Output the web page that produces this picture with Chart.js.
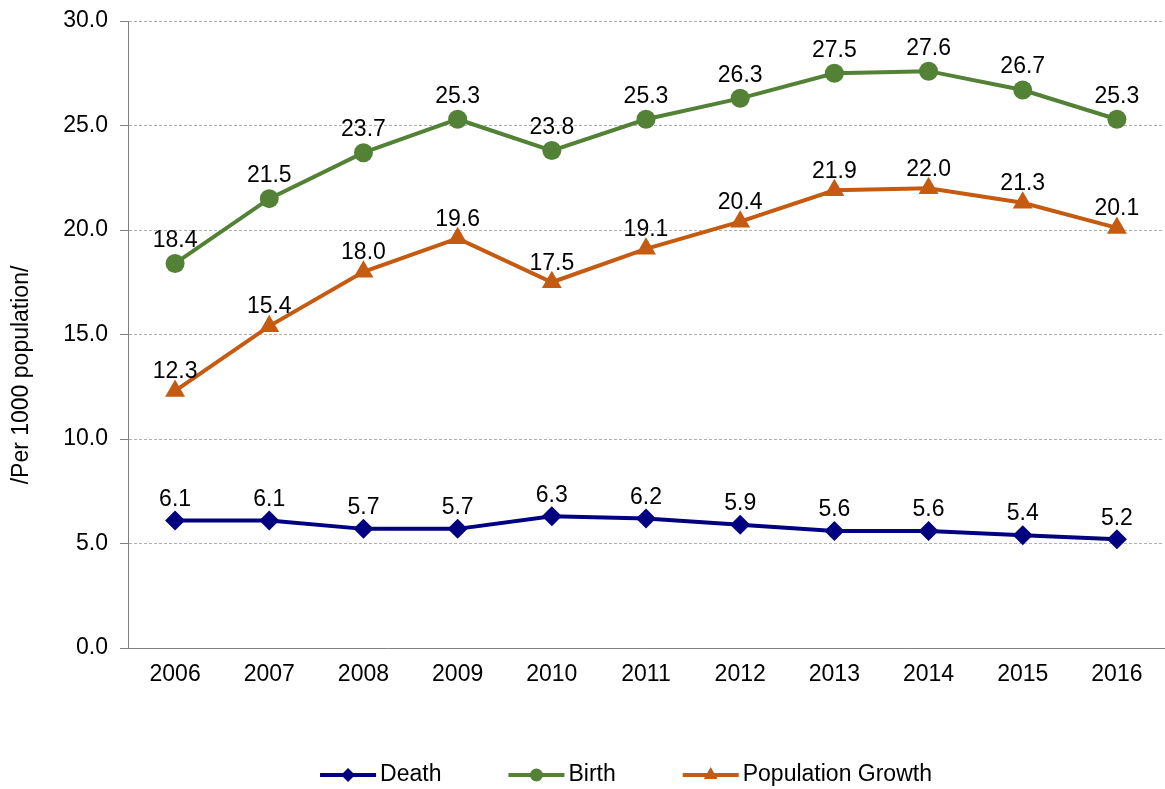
<!DOCTYPE html>
<html>
<head>
<meta charset="utf-8">
<title>Death, Birth and Population Growth</title>
<script src="https://cdn.jsdelivr.net/npm/chart.js@4/dist/chart.umd.min.js"></script>
<style>
  html, body { margin: 0; padding: 0; background: #fff; overflow: hidden; }
  #wrap { width: 1165px; height: 789px; position: relative; }
  #chart { display: block; }
</style>
</head>
<body>
<div id="wrap"><canvas id="chart"></canvas></div>
<script>
// Data
var years = ['2006', '2007', '2008', '2009', '2010', '2011', '2012', '2013', '2014', '2015', '2016'];
var deathRate = [6.1, 6.1, 5.7, 5.7, 6.3, 6.2, 5.9, 5.6, 5.6, 5.4, 5.2];
var birthRate = [18.4, 21.5, 23.7, 25.3, 23.8, 25.3, 26.3, 27.5, 27.6, 26.7, 25.3];
var growthRate = [12.3, 15.4, 18.0, 19.6, 17.5, 19.1, 20.4, 21.9, 22.0, 21.3, 20.1];
var yTicks = [0, 5, 10, 15, 20, 25, 30];

var FONT = '"Liberation Sans", Arial, sans-serif';
var NAVY = '#000080';
var GREEN = '#538135';
var ORANGE = '#C55A11';

// Draw a small marker (used for the legend)
function drawMarker(ctx, style, x, y, r) {
  ctx.beginPath();
  if (style === 'circle') {
    ctx.arc(x, y, r, 0, Math.PI * 2);
  } else if (style === 'rectRot') {
    ctx.moveTo(x, y - r);
    ctx.lineTo(x + r, y);
    ctx.lineTo(x, y + r);
    ctx.lineTo(x - r, y);
    ctx.closePath();
  } else if (style === 'triangle') {
    ctx.moveTo(x, y - r);
    ctx.lineTo(x + r * 0.866, y + r * 0.5);
    ctx.lineTo(x - r * 0.866, y + r * 0.5);
    ctx.closePath();
  }
  ctx.fill();
}

// Value labels above each point
var valueLabels = {
  id: 'valueLabels',
  afterDatasetsDraw: function(chart) {
    var ctx = chart.ctx;
    ctx.save();
    ctx.font = '23px ' + FONT;
    ctx.fillStyle = '#000';
    ctx.textAlign = 'center';
    ctx.textBaseline = 'middle';
    chart.data.datasets.forEach(function(ds, i) {
      var meta = chart.getDatasetMeta(i);
      var off = ds.labelOffset || 22;
      meta.data.forEach(function(pt, j) {
        ctx.fillText(ds.data[j].toFixed(1), pt.x, pt.y - off);
      });
    });
    ctx.restore();
  }
};

// Y axis title and bottom legend
var extras = {
  id: 'extras',
  afterDraw: function(chart) {
    var ctx = chart.ctx;
    ctx.save();
    ctx.font = '23px ' + FONT;
    ctx.fillStyle = '#000';
    ctx.textBaseline = 'middle';

    // rotated axis title
    ctx.save();
    ctx.translate(22, 375);
    ctx.rotate(-Math.PI / 2);
    ctx.textAlign = 'center';
    ctx.fillText('/Per 1000 population/', 0, 0);
    ctx.restore();

    // legend
    var items = chart.data.datasets;
    var lineW = 56, gapText = 4, gapItem = 67;
    var total = 0;
    items.forEach(function(ds, i) {
      total += lineW + gapText + ctx.measureText(ds.label).width;
      if (i < items.length - 1) total += gapItem;
    });
    var x = 626 - total / 2;
    var y = 775;
    ctx.textAlign = 'left';
    items.forEach(function(ds) {
      ctx.strokeStyle = ds.borderColor;
      ctx.fillStyle = ds.borderColor;
      ctx.lineWidth = 4;
      ctx.beginPath();
      ctx.moveTo(x, y);
      ctx.lineTo(x + lineW, y);
      ctx.stroke();
      drawMarker(ctx, ds.pointStyle, x + lineW / 2, y, ds.legendRadius);
      ctx.fillStyle = '#000';
      ctx.fillText(ds.label, x + lineW + gapText, y);
      x += lineW + gapText + ctx.measureText(ds.label).width + gapItem;
    });
    ctx.restore();
  }
};

var ctx = document.getElementById('chart').getContext('2d');
var chart = new Chart(ctx, {
  type: 'line',
  data: {
    labels: years,
    datasets: [
      {
        label: 'Death',
        data: deathRate,
        borderColor: NAVY,
        backgroundColor: NAVY,
        borderWidth: 4,
        pointStyle: 'rectRot',
        pointRadius: 10,
        pointBorderWidth: 0,
        legendRadius: 7,
        labelOffset: 21
      },
      {
        label: 'Birth',
        data: birthRate,
        borderColor: GREEN,
        backgroundColor: GREEN,
        borderWidth: 4,
        pointStyle: 'circle',
        pointRadius: 9.5,
        pointBorderWidth: 0,
        legendRadius: 6.5,
        labelOffset: 23
      },
      {
        label: 'Population Growth',
        data: growthRate,
        borderColor: ORANGE,
        backgroundColor: ORANGE,
        borderWidth: 4,
        pointStyle: 'triangle',
        pointRadius: 11.5,
        pointBorderWidth: 0,
        legendRadius: 8,
        labelOffset: 19
      }
    ]
  },
  options: {
    responsive: true,
    maintainAspectRatio: false,
    animation: false,
    layout: { autoPadding: false, padding: { top: 21, right: 1, left: 0, bottom: 0 } },
    plugins: {
      legend: { display: false },
      tooltip: { enabled: false }
    },
    scales: {
      x: {
        offset: true,
        grid: { display: false, drawTicks: false },
        border: { display: true, color: '#808080', width: 1 },
        ticks: { color: '#000', font: { family: FONT, size: 23 }, padding: 13, maxRotation: 0 },
        afterFit: function(scale) {
          scale.height = 141;
          scale.paddingLeft = 0;
          scale.paddingRight = 0;
        }
      },
      y: {
        min: 0,
        max: 30,
        afterBuildTicks: function(scale) {
          scale.ticks = yTicks.map(function(v) { return { value: v }; });
        },
        grid: {
          color: '#b0b0b0',
          lineWidth: 1,
          tickColor: '#808080',
          tickLength: 8,
          tickBorderDash: [],
          drawTicks: true
        },
        border: { display: true, color: '#808080', width: 1, dash: [3, 2] },
        ticks: {
          color: '#000',
          font: { family: FONT, size: 23 },
          padding: 12,
          callback: function(v) { return Number(v).toFixed(1); }
        },
        afterFit: function(scale) {
          scale.width = 128;
          scale.paddingTop = 0;
          scale.paddingBottom = 0;
        }
      }
    }
  },
  plugins: [valueLabels, extras]
});
</script>
</body>
</html>
